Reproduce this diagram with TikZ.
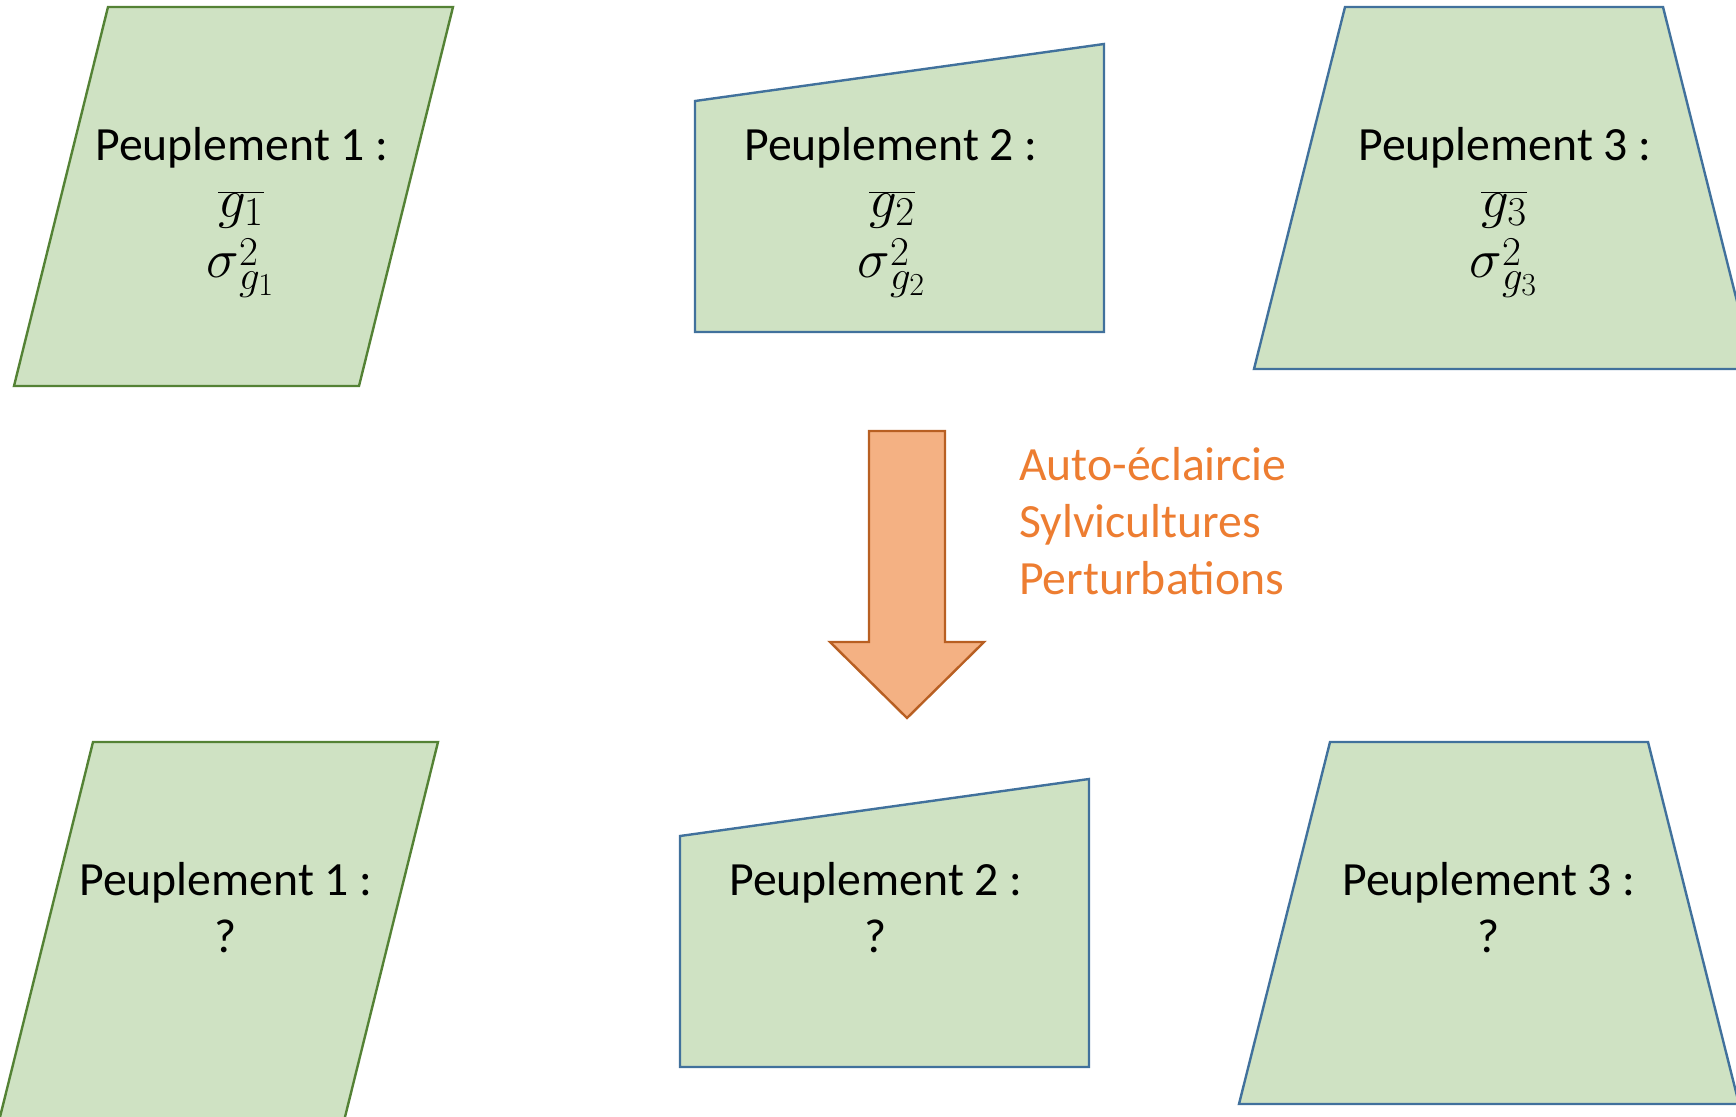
\RequirePackage{fix-cm}
\documentclass[tikz,border=0pt]{standalone}
\usepackage{fontspec}
\setmainfont{Carlito}
\DeclareMathSizes{55}{55}{41}{32}
\newcommand{\sigvar}[1]{\sigma\rlap{\raisebox{12pt}{$\scriptstyle 2$}}\raisebox{-12pt}{$\scriptstyle g_{#1}$}}
\definecolor{shapefill}{HTML}{CFE2C3}
\definecolor{greenline}{HTML}{548235}
\definecolor{blueline}{HTML}{41719C}
\definecolor{arrowfill}{HTML}{F4B183}
\definecolor{arrowline}{HTML}{B85F22}
\definecolor{orangetext}{HTML}{ED7D31}
\tikzset{
  greenshape/.style={fill=shapefill, draw=greenline, line width=2.4pt, line join=miter},
  blueshape/.style={fill=shapefill, draw=blueline, line width=2.4pt, line join=miter},
  blockarrow/.style={fill=arrowfill, draw=arrowline, line width=2.4pt, line join=miter},
  lbl/.style={anchor=base, inner sep=0pt, font=\fontsize{47.7}{57}\selectfont, text=black},
  mth/.style={anchor=base, inner sep=0pt, font=\fontsize{55}{60}\selectfont, text=black},
  factor/.style={anchor=base west, inner sep=0pt, font=\fontsize{47.7}{57}\selectfont, text=orangetext}
}
\begin{document}
\begin{tikzpicture}[x=1pt,y=-1pt]
\useasboundingbox (0,0) rectangle (1736,1116);
\clip (0,0) rectangle (1736,1116);
% top row
\draw[greenshape] (108,7) -- (453,7) -- (359,386) -- (14,386) -- cycle;
\draw[blueshape] (695,101) -- (1104,44) -- (1104,332) -- (695,332) -- cycle;
\draw[blueshape] (1345,7) -- (1663,7) -- (1754,369) -- (1254,369) -- cycle;
% bottom row
\draw[greenshape] (93,742) -- (438,742) -- (344,1121) -- (-1,1121) -- cycle;
\draw[blueshape] (680,836) -- (1089,779) -- (1089,1067) -- (680,1067) -- cycle;
\draw[blueshape] (1330,742) -- (1648,742) -- (1739,1104) -- (1239,1104) -- cycle;
% arrow
\draw[blockarrow] (869,431) -- (945,431) -- (945,642) -- (984,642) -- (907,718) -- (830,642) -- (869,642) -- cycle;
% top texts
\node[lbl] (t1) at (242,160) {Peuplement 1 :};
\node[mth] (m1a) at (241,217) {$\overline{g_1}$};
\node[mth] (m1b) at (240,277) {$\sigvar{1}$};
\node[lbl] (t2) at (891,160) {Peuplement 2 :};
\node[mth] (m2a) at (892,217) {$\overline{g_2}$};
\node[mth] (m2b) at (891,277) {$\sigvar{2}$};
\node[lbl] (t3) at (1505,160) {Peuplement 3 :};
\node[mth] (m3a) at (1504,217) {$\overline{g_3}$};
\node[mth] (m3b) at (1503,277) {$\sigvar{3}$};
% bottom texts
\node[lbl] (b1) at (226,895) {Peuplement 1 :};
\node[lbl] (q1) at (226,952) {?};
\node[lbl] (b2) at (876,895) {Peuplement 2 :};
\node[lbl] (q2) at (876,952) {?};
\node[lbl] (b3) at (1489,895) {Peuplement 3 :};
\node[lbl] (q3) at (1489,952) {?};
% factors
\node[factor] (f1) at (1019,480) {Auto-éclaircie};
\node[factor] (f2) at (1019,537) {Sylvicultures};
\node[factor] (f3) at (1019,594) {Perturbations};
\end{tikzpicture}
\end{document}
